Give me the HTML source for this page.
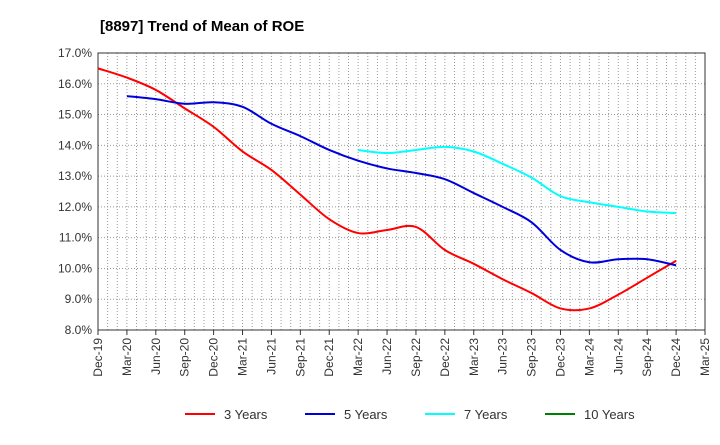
<!DOCTYPE html>
<html><head><meta charset="utf-8"><style>
body{margin:0;background:#fff;font-family:"Liberation Sans",sans-serif;}
</style></head><body>
<svg id="c" width="720" height="440" xmlns="http://www.w3.org/2000/svg">
<text x="100" y="31" font-size="15" font-weight="bold" fill="#000">[8897]  Trend of Mean of ROE</text>
<g id="grid"></g><g id="axes"></g><g id="series"></g><g id="legend"></g>
</svg>
<script>
const xLabels=["Dec-19","Mar-20","Jun-20","Sep-20","Dec-20","Mar-21","Jun-21","Sep-21","Dec-21","Mar-22","Jun-22","Sep-22","Dec-22","Mar-23","Jun-23","Sep-23","Dec-23","Mar-24","Jun-24","Sep-24","Dec-24","Mar-25"];
const yTicks=[8,9,10,11,12,13,14,15,16,17];
const s3=[16.5,16.2,15.8,15.2,14.6,13.8,13.2,12.4,11.6,11.15,11.25,11.35,10.6,10.15,9.65,9.2,8.7,8.7,9.15,9.7,10.25];
const s5=[null,15.6,15.5,15.35,15.4,15.25,14.7,14.3,13.85,13.5,13.25,13.1,12.9,12.45,12.0,11.5,10.6,10.2,10.3,10.3,10.1];
const s7=[null,null,null,null,null,null,null,null,null,13.85,13.75,13.85,13.95,13.8,13.4,12.95,12.35,12.15,12.0,11.85,11.8];
const s10=[];
const L=98,R=705,T=53,B=330,NS="http://www.w3.org/2000/svg";
const X=i=>L+(R-L)*i/21, Y=v=>B-(v-8)/9*(B-T);
function mk(t,a,p){const e=document.createElementNS(NS,t);for(const k in a)e.setAttribute(k,a[k]);p.appendChild(e);return e;}
const g=document.getElementById('grid'),ax=document.getElementById('axes'),sg=document.getElementById('series'),lg=document.getElementById('legend');
for(let m=1;m<63;m++){const x=L+(R-L)*m/63;const l=mk('line',{x1:x,x2:x,y1:T,y2:B,stroke:'#999','stroke-dasharray':'1,2','stroke-width':1},g);}
yTicks.forEach(v=>{const y=Y(v);const l=mk('line',{x1:L,x2:R,y1:y,y2:y,stroke:'#999','stroke-dasharray':'1,2'},g);
const t=mk('text',{x:L-6,y:y+4,'text-anchor':'end','font-size':12,fill:'#333'},ax);t.textContent=v.toFixed(1)+'%';});
xLabels.forEach((s,i)=>{const x=X(i);mk('line',{x1:x,x2:x,y1:B,y2:B+5,stroke:'#333'},ax);const t=mk('text',{transform:`translate(${x+4},${B+8}) rotate(-90)`,'text-anchor':'end','font-size':12,fill:'#333'},ax);t.textContent=s;});
const fr=mk('rect',{x:L,y:T,width:R-L,height:B-T,fill:'none',stroke:'#333'},ax);
function path(arr){const p=[];arr.forEach((v,i)=>{if(v!=null)p.push([X(i),Y(v)]);});if(p.length<2)return '';let d=`M${p[0][0]},${p[0][1]}`;
for(let i=0;i<p.length-1;i++){const p0=p[i-1]||p[i],p1=p[i],p2=p[i+1],p3=p[i+2]||p2;d+=` C${p1[0]+(p2[0]-p0[0])/6},${p1[1]+(p2[1]-p0[1])/6} ${p2[0]-(p3[0]-p1[0])/6},${p2[1]-(p3[1]-p1[1])/6} ${p2[0]},${p2[1]}`;}return d;}
const ser=[[s3,'#ff0000','3 Years','series-3-years'],[s5,'#0000dd','5 Years','series-5-years'],[s7,'#00ffff','7 Years','series-7-years'],[s10,'#008000','10 Years','series-10-years']];
ser.forEach(([a,c,n,dn],k)=>{const d=path(a);if(d){const e=mk('path',{d:d,fill:'none',stroke:c,'stroke-width':2},sg);}
const lx=185+k*120;const li=mk('line',{x1:lx,x2:lx+30,y1:414,y2:414,stroke:c,'stroke-width':2},lg);
const t=mk('text',{x:lx+39,y:419,'font-size':13,fill:'#333'},lg);t.textContent=n;});
</script>
</body></html>
